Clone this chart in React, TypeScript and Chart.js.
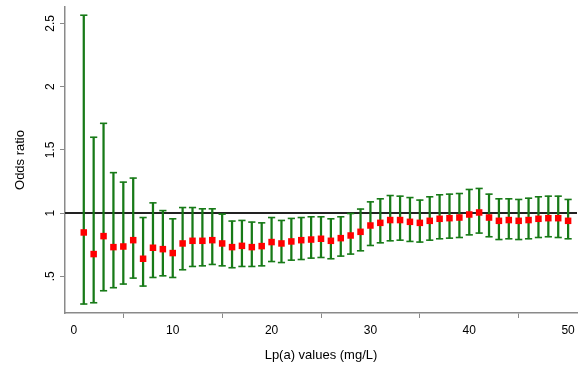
import React, { useEffect, useRef } from "react";
import { Chart, registerables } from "chart.js";

Chart.register(...registerables);

const lpaValues = [
  1, 2, 3, 4, 5, 6, 7, 8, 9, 10, 11, 12, 13, 14, 15, 16, 17, 18, 19, 20, 21, 22, 23, 24, 25,
  26, 27, 28, 29, 30, 31, 32, 33, 34, 35, 36, 37, 38, 39, 40, 41, 42, 43, 44, 45, 46, 47, 48, 49, 50,
];

const oddsRatio = [
  0.847, 0.676, 0.818, 0.731, 0.736, 0.786, 0.639, 0.726, 0.715, 0.684,
  0.76, 0.781, 0.781, 0.786, 0.76, 0.731, 0.741, 0.731, 0.739, 0.771,
  0.76, 0.776, 0.786, 0.791, 0.797, 0.781, 0.802, 0.823, 0.852, 0.902,
  0.923, 0.945, 0.945, 0.931, 0.923, 0.939, 0.955, 0.96, 0.965, 0.989,
  1.005, 0.965, 0.939, 0.945, 0.939, 0.945, 0.955, 0.96, 0.96, 0.939,
];

const ciLower = [
  0.281, 0.291, 0.386, 0.41, 0.439, 0.486, 0.423, 0.491, 0.504, 0.491,
  0.552, 0.578, 0.583, 0.594, 0.583, 0.568, 0.578, 0.578, 0.583, 0.617,
  0.609, 0.628, 0.633, 0.644, 0.649, 0.639, 0.66, 0.676, 0.702, 0.744,
  0.765, 0.781, 0.786, 0.776, 0.771, 0.786, 0.797, 0.802, 0.807, 0.828,
  0.842, 0.813, 0.791, 0.797, 0.791, 0.797, 0.807, 0.813, 0.807, 0.797,
];

const ciUpper = [
  2.565, 1.6, 1.71, 1.32, 1.245, 1.277, 0.965, 1.081, 1.02, 0.955,
  1.044, 1.044, 1.034, 1.034, 0.992, 0.937, 0.942, 0.929, 0.923, 0.965,
  0.942, 0.958, 0.965, 0.971, 0.971, 0.955, 0.971, 0.997, 1.032, 1.089,
  1.113, 1.139, 1.134, 1.123, 1.103, 1.129, 1.145, 1.15, 1.155, 1.187,
  1.195, 1.15, 1.113, 1.113, 1.108, 1.118, 1.129, 1.134, 1.134, 1.108,
];

const xTickValues = [0, 10, 20, 30, 40, 50];
const yTickValues = [0.5, 1, 1.5, 2, 2.5];
const yTickLabels = [".5", "1", "1.5", "2", "2.5"];
const referenceValue = 1;

const GREEN = "#177a17";
const RED = "#ff0000";
const AXIS = "#8a8a8a";
const FONT = "'Liberation Sans', Arial, sans-serif";

export default function App() {
  const ref = useRef<HTMLCanvasElement | null>(null);

  useEffect(() => {
    document.body.style.margin = "0";
    const canvas = ref.current;
    if (!canvas) return;
    const xMin = -0.9;
    const xMax = 50.9;

    const chart = new Chart(canvas, {
      type: "scatter",
      data: {
        datasets: [
          {
            type: "line",
            data: [
              { x: xMin, y: referenceValue },
              { x: xMax, y: referenceValue },
            ],
            borderColor: "#222222",
            borderWidth: 2,
            pointRadius: 0,
            order: 10,
          } as any,
          {
            type: "bar",
            data: lpaValues.map((x, i) => ({ x, y: [ciLower[i], ciUpper[i]] })),
            backgroundColor: GREEN,
            borderWidth: 0,
            barThickness: 1.6,
            grouped: false,
            order: 5,
          } as any,
          {
            data: lpaValues.map((x, i) => ({ x, y: ciLower[i] })),
            pointStyle: "line",
            pointRadius: 3.6,
            borderColor: GREEN,
            borderWidth: 1.6,
            order: 4,
          },
          {
            data: lpaValues.map((x, i) => ({ x, y: ciUpper[i] })),
            pointStyle: "line",
            pointRadius: 3.6,
            borderColor: GREEN,
            borderWidth: 1.6,
            order: 3,
          },
          {
            data: lpaValues.map((x, i) => ({ x, y: oddsRatio[i] })),
            pointStyle: "rect",
            pointRadius: 4.6,
            backgroundColor: RED,
            borderWidth: 0,
            order: 1,
          },
        ],
      },
      options: {
        animation: false,
        responsive: true,
        maintainAspectRatio: false,
        layout: { padding: { left: 0, top: 7, right: 7, bottom: 0 } },
        plugins: { legend: { display: false }, tooltip: { enabled: false } },
        scales: {
          x: {
            type: "linear",
            min: xMin,
            max: xMax,
            offset: false,
            afterBuildTicks: (s: any) => {
              s.ticks = xTickValues.map((v) => ({ value: v }));
            },
            afterFit: (s: any) => {
              s.height = 56;
              s.paddingLeft = 0;
              s.paddingRight = 0;
            },
            grid: { drawOnChartArea: false, drawTicks: true, tickLength: 5, color: AXIS, lineWidth: 1 },
            border: { display: true, color: AXIS, width: 1.5 },
            ticks: {
              color: "#000",
              font: { family: FONT, size: 12 },
              padding: 5,
              maxRotation: 0,
              minRotation: 0,
              autoSkip: false,
            },
            title: {
              display: true,
              text: "Lp(a) values (mg/L)",
              color: "#000",
              font: { family: FONT, size: 13 },
              padding: { top: 0, bottom: 6 },
            },
          },
          y: {
            type: "linear",
            min: 0.21,
            max: 2.63,
            afterBuildTicks: (s: any) => {
              s.ticks = yTickValues.map((v) => ({ value: v }));
            },
            afterFit: (s: any) => {
              s.width = 65;
              s.paddingTop = 0;
              s.paddingBottom = 0;
            },
            grid: { drawOnChartArea: false, drawTicks: true, tickLength: 5, color: AXIS, lineWidth: 1 },
            border: { display: true, color: AXIS, width: 1.5 },
            ticks: {
              color: "#000",
              font: { family: FONT, size: 12 },
              padding: 0.5,
              minRotation: 90,
              maxRotation: 90,
              crossAlign: "center",
              autoSkip: false,
              callback: (v: any) => {
                const i = yTickValues.indexOf(Number(v));
                return i >= 0 ? yTickLabels[i] : "";
              },
            },
            title: {
              display: true,
              text: "Odds ratio",
              color: "#000",
              font: { family: FONT, size: 13 },
              padding: { top: 13, bottom: 0 },
            },
          },
        },
      } as any,
    });
    return () => chart.destroy();
  }, []);

  return (
    <div style={{ width: 584, height: 369, position: "relative", background: "#fff" }}>
      <canvas ref={ref} />
    </div>
  );
}
